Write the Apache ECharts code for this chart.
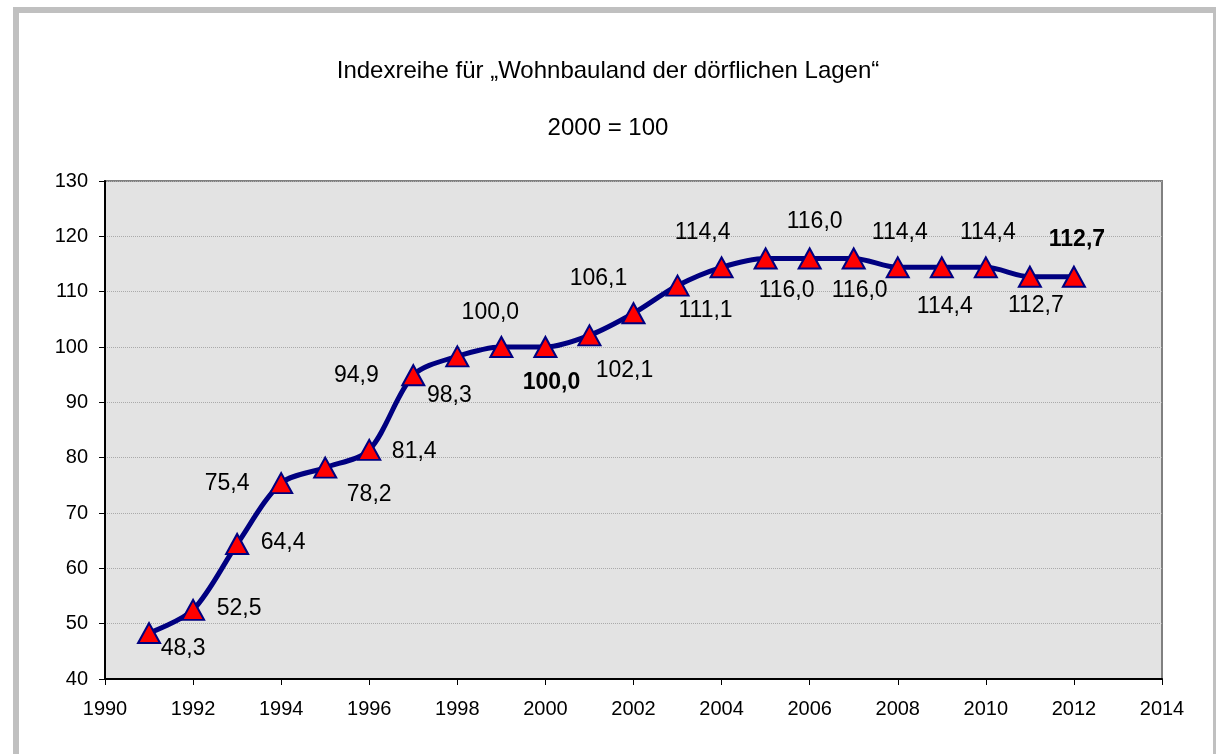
<!DOCTYPE html>
<html>
<head>
<meta charset="utf-8">
<script src="https://cdn.jsdelivr.net/npm/echarts@6/dist/echarts.min.js"></script>
<style>
  html, body { margin: 0; padding: 0; background: #fff; }
  #chart { width: 1216px; height: 754px; }
</style>
</head>
<body>
<div id="chart"></div>
<script>
// data
const years = [1991, 1992, 1993, 1994, 1995, 1996, 1997, 1998, 1999, 2000, 2001,
  2002, 2003, 2004, 2005, 2006, 2007, 2008, 2009, 2010, 2011, 2012]
const indexValues = [48.3, 52.5, 64.4, 75.4, 78.2, 81.4, 94.9, 98.3, 100.0, 100.0, 102.1,
  106.1, 111.1, 114.4, 116.0, 116.0, 116.0, 114.4, 114.4, 114.4, 112.7, 112.7]
const boldYears = [2000, 2012]

const titleText = 'Indexreihe für „Wohnbauland der dörflichen Lagen“'
const subTitleText = '2000 = 100'

// label offsets (px) per point, same order as years
const labelOffsets = [
  [34, 16], [46, -1], [46, -1], [-54, 1], [44, 27], [45, 2], [-57, 0], [-8, 39],
  [-11, -34], [6, 36], [35, 35], [-35, -35], [28, 25], [-19, -35], [21, 32], [5, -37],
  [6, 32], [2, -35], [3, 39], [2, -35], [6, 29], [3, -37]
]

const fmt = v => v.toFixed(1).replace('.', ',')
const font = 'Liberation Sans, Arial, sans-serif'

const chart = echarts.init(document.getElementById('chart'))

const seriesData = years.map((y, i) => ({
  value: [y, indexValues[i]],
  label: {
    offset: labelOffsets[i],
    fontWeight: boldYears.indexOf(y) >= 0 ? 'bold' : 'normal'
  }
}))

const option = {
  animation: false,
  textStyle: { fontFamily: font },
  graphic: [{
    type: 'rect',
    z: -10,
    shape: { x: 16, y: 10, width: 1200, height: 760 },
    style: { fill: '#fff', stroke: '#c0c0c0', lineWidth: 6 }
  }],
  title: [{
    text: titleText,
    left: 'center',
    top: 54,
    textStyle: { fontSize: 24, fontWeight: 'normal', color: '#000', fontFamily: font }
  }, {
    text: subTitleText,
    left: 'center',
    top: 111,
    textStyle: { fontSize: 24, fontWeight: 'normal', color: '#000', fontFamily: font }
  }],
  grid: {
    left: 105,
    right: 54,
    top: 181,
    bottom: 75,
    show: true,
    backgroundColor: '#e3e3e3',
    borderColor: '#808080',
    borderWidth: 2
  },
  xAxis: {
    type: 'value',
    min: 1990,
    max: 2014,
    interval: 2,
    axisLine: { show: true, onZero: false, lineStyle: { color: '#000', width: 2 } },
    axisTick: { show: true, length: 6, lineStyle: { color: '#000' } },
    axisLabel: { color: '#000', fontSize: 20, margin: 20, formatter: v => String(v) },
    splitLine: { show: false }
  },
  yAxis: {
    type: 'value',
    min: 40,
    max: 130,
    interval: 10,
    axisLine: { show: true, lineStyle: { color: '#000', width: 2 } },
    axisTick: { show: true, length: 6, lineStyle: { color: '#000' } },
    axisLabel: { color: '#000', fontSize: 20, margin: 17 },
    splitLine: { show: true, lineStyle: { color: '#aaaaaa', type: 'dotted', width: 1 } }
  },
  series: [{
    type: 'line',
    data: seriesData,
    smooth: 0.3,
    lineStyle: { color: '#000080', width: 5 },
    symbol: 'triangle',
    symbolSize: [22, 20],
    itemStyle: { color: '#ff0000', borderColor: '#000080', borderWidth: 2 },
    label: {
      show: true,
      position: 'inside',
      color: '#000',
      fontSize: 23,
      formatter: p => fmt(p.value[1])
    }
  }]
}

chart.setOption(option)
</script>
</body>
</html>
